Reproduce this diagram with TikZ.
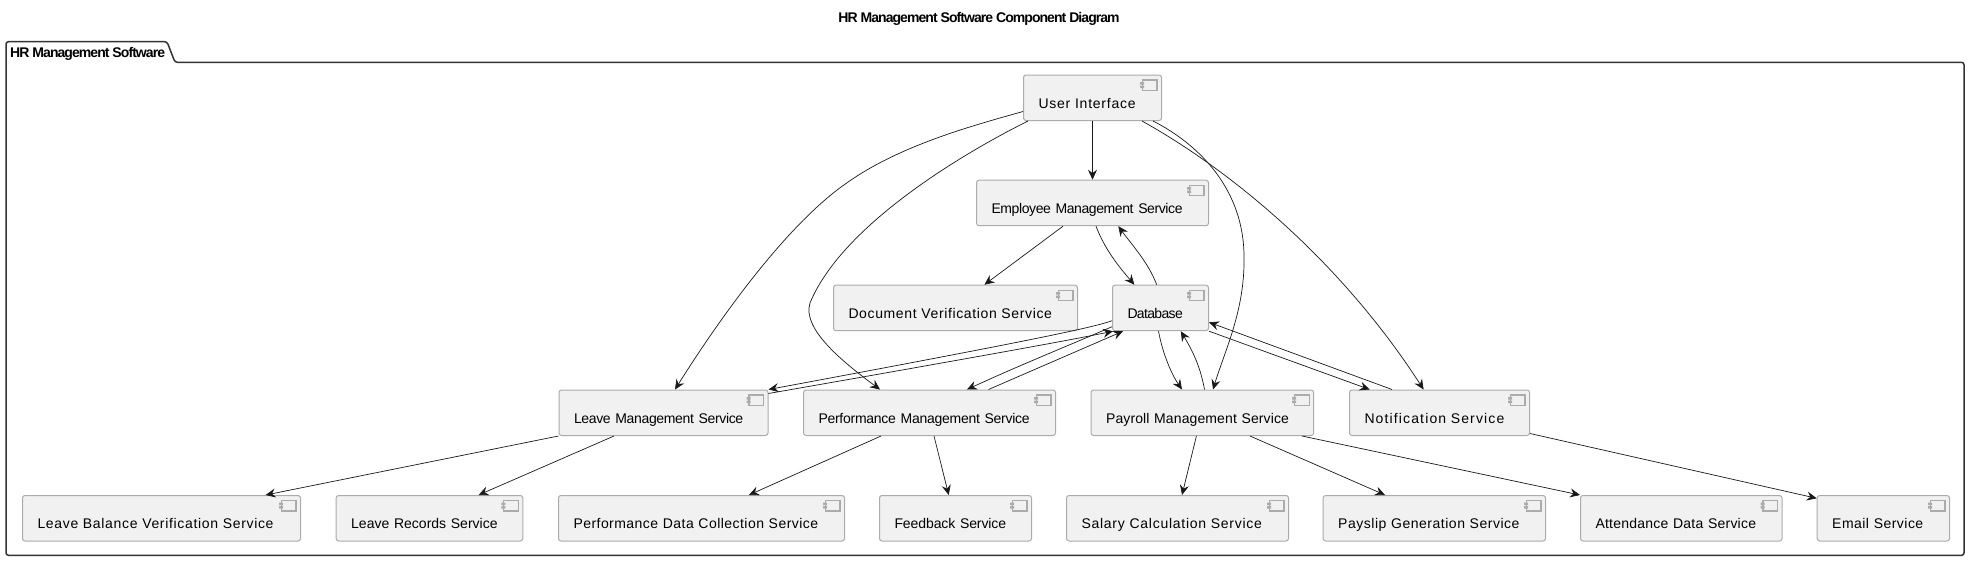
\documentclass[tikz,border=0pt]{standalone}
\usepackage{fontspec}
\setmainfont{Liberation Sans}
\usetikzlibrary{arrows.meta}
\definecolor{compfill}{HTML}{F1F1F1}
\definecolor{compline}{HTML}{ABABAB}
\definecolor{inkline}{HTML}{181818}
% spread a text over the width it has in the picture
\ExplSyntaxOn
\cs_new:Npn \charcount #1 {\str_count:n{#1}}
\ExplSyntaxOff
\newlength\natw
\newcommand{\fitw}[2]{%
  \settowidth\natw{#2}%
  \pgfmathsetmacro\lsp{100*(#1-\natw)/\charcount{#2}/12}%
  {\addfontfeatures{LetterSpace=\lsp}#2}}
\tikzset{
  comp/.style={draw=compline,fill=compfill,line width=1pt,rounded corners=2.5pt,anchor=north west,
    minimum width=#1,minimum height=45.5pt,text width=#1-30pt,align=left,inner xsep=15pt,inner ysep=1.75pt,
    text height=31.5pt,text depth=10.5pt,font=\fontsize{14}{16}\selectfont,text=black,
    path picture={
      \draw[compline,line width=1.2pt,sharp corners]
        ([xshift=-19pt,yshift=-5pt]path picture bounding box.north east) rectangle ++(14.5,10.5);
      \fill[compline,sharp corners]
        ([xshift=-21.5pt,yshift=-7pt]path picture bounding box.north east) rectangle ++(4,2.5)
        ([xshift=-21.5pt,yshift=-10.5pt]path picture bounding box.north east) rectangle ++(4,2.5);
    }},
  link/.style={-{Stealth[length=10pt,width=9pt,inset=3.5pt]},draw=inkline,line width=0.7pt},
  heading/.style={font=\bfseries\fontsize{14}{16}\selectfont,inner sep=0pt,text=black}
}
\begin{document}
\begin{tikzpicture}[x=1pt,y=-1pt]
  \useasboundingbox (0,0) rectangle (1973,562);

  \node[heading] (title) at (979,18.5) {\fitw{282}{HR Management Software Component Diagram}};

  % package frame with its tab
  \draw[draw=black!80,line width=1.5pt,rounded corners=2.5pt]
    (6,62.3) -- (6,41.7) -- (167,41.7) -- (175,62.3) -- (1964,62.3) -- (1964,555.3) -- (6,555.3) -- cycle;
  \node[heading,anchor=base west] (pkgname) at (10,57) {\fitw{155}{HR Management Software}};

  % first rows
  \node[comp=138pt] (ui) at (1023,74.5) {\fitw{98}{User Interface}};
  \node[comp=232pt] (ems) at (976,179.7) {\fitw{190.6}{Employee Management Service}};
  \node[comp=244pt] (doc) at (833,284.7) {\fitw{204}{Document Verification Service}};
  \node[comp=96pt] (db) at (1112,284.7) {\fitw{55.4}{Database}};

  % managers
  \node[comp=209pt] (lms) at (558.5,389.5) {\fitw{168.7}{Leave Management Service}};
  \node[comp=252pt] (pms) at (803,389.5) {\fitw{211}{Performance Management Service}};
  \node[comp=222.5pt] (pay) at (1090.6,389.5) {\fitw{183}{Payroll Management Service}};
  \node[comp=180pt] (not) at (1349,389.5) {\fitw{140}{Notification Service}};

  % bottom row
  \node[comp=278pt] (lbv) at (22,495) {\fitw{237.5}{Leave Balance Verification Service}};
  \node[comp=186.6pt] (lr) at (335.7,495) {\fitw{146.5}{Leave Records Service}};
  \node[comp=286pt] (pdc) at (558,495) {\fitw{245.6}{Performance Data Collection Service}};
  \node[comp=152pt] (fb) at (879,495) {\fitw{111.6}{Feedback Service}};
  \node[comp=222pt] (sal) at (1066,495) {\fitw{181.5}{Salary Calculation Service}};
  \node[comp=222.3pt] (psl) at (1322.7,495) {\fitw{182}{Payslip Generation Service}};
  \node[comp=201.5pt] (att) at (1580,495) {\fitw{161}{Attendance Data Service}};
  \node[comp=132.3pt] (em) at (1816.7,495) {\fitw{91.6}{Email Service}};

  % user interface links
  \draw[link] (ui.south) -- (ems.north);
  \draw[link] ([yshift=-37pt]ui.north west) .. controls (975,125) and (900,145) .. (846.7,183)
    .. controls (790,222) and (725,310) .. ([xshift=116.5pt]lms.north west);
  \draw[link] ([xshift=5pt]ui.south west) .. controls (950,160) and (840,230) .. (810,303)
    .. controls (802,328) and (840,360) .. ([xshift=77pt]pms.north west);
  \draw[link] ([xshift=130pt]ui.south west) .. controls (1200,145) and (1244,190) .. (1244,257)
    .. controls (1245,310) and (1225,350) .. ([xshift=122.4pt]pay.north west);
  \draw[link] ([xshift=119pt]ui.south west) .. controls (1230,170) and (1340,260) .. ([xshift=74.6pt]not.north west);

  % employee service and database
  \draw[link] ([xshift=87pt]ems.south west) -- ([xshift=151.4pt]doc.north west);
  \draw[link] ([xshift=120pt]ems.south west) .. controls (1105,250) and (1120,268) .. ([xshift=22.4pt]db.north west);
  \draw[link] ([xshift=44.7pt]db.north west) .. controls (1148,262) and (1132,245) .. ([xshift=142.3pt]ems.south west);

  % database and managers
  \draw[link] ([yshift=-36pt]db.north west) .. controls (1095,327) and (1040,339) .. (lms.north east);
  \draw[link] ([yshift=-4pt]lms.north east) .. controls (1040,346) and (1085,337) .. ([xshift=1pt]db.south west);
  \draw[link] ([yshift=-42pt]db.north west) .. controls (1070,345) and (1020,365) .. ([xshift=164pt]pms.north west);
  \draw[link] ([xshift=185.5pt]pms.north west) -- ([xshift=11pt]db.south west);
  \draw[link] ([xshift=46.5pt]db.south west) .. controls (1163,355) and (1172,375) .. ([xshift=91.4pt]pay.north west);
  \draw[link] ([xshift=113.9pt]pay.north west) .. controls (1200,365) and (1192,350) .. ([xshift=68.8pt]db.south west);
  \draw[link] (db.south east) -- ([xshift=20.6pt]not.north west);
  \draw[link] ([xshift=43pt]not.north west) -- ([yshift=-37.6pt]db.north east);

  % managers and their services
  \draw[link] (lms.south west) -- ([xshift=243.6pt]lbv.north west);
  \draw[link] ([xshift=55.5pt]lms.south west) -- ([xshift=142.9pt]lr.north west);
  \draw[link] ([xshift=78pt]pms.south west) -- ([xshift=191pt]pdc.north west);
  \draw[link] ([xshift=131pt]pms.south west) -- ([xshift=69.7pt]fb.north west);
  \draw[link] ([xshift=105.8pt]pay.south west) -- ([xshift=116pt]sal.north west);
  \draw[link] ([xshift=159.4pt]pay.south west) -- ([xshift=62.3pt]psl.north west);
  \draw[link] ([xshift=211.4pt]pay.south west) -- (att.north west);
  \draw[link] ([yshift=2.5pt]not.south east) -- ([yshift=-3.3pt]em.north west);
\end{tikzpicture}
\end{document}
